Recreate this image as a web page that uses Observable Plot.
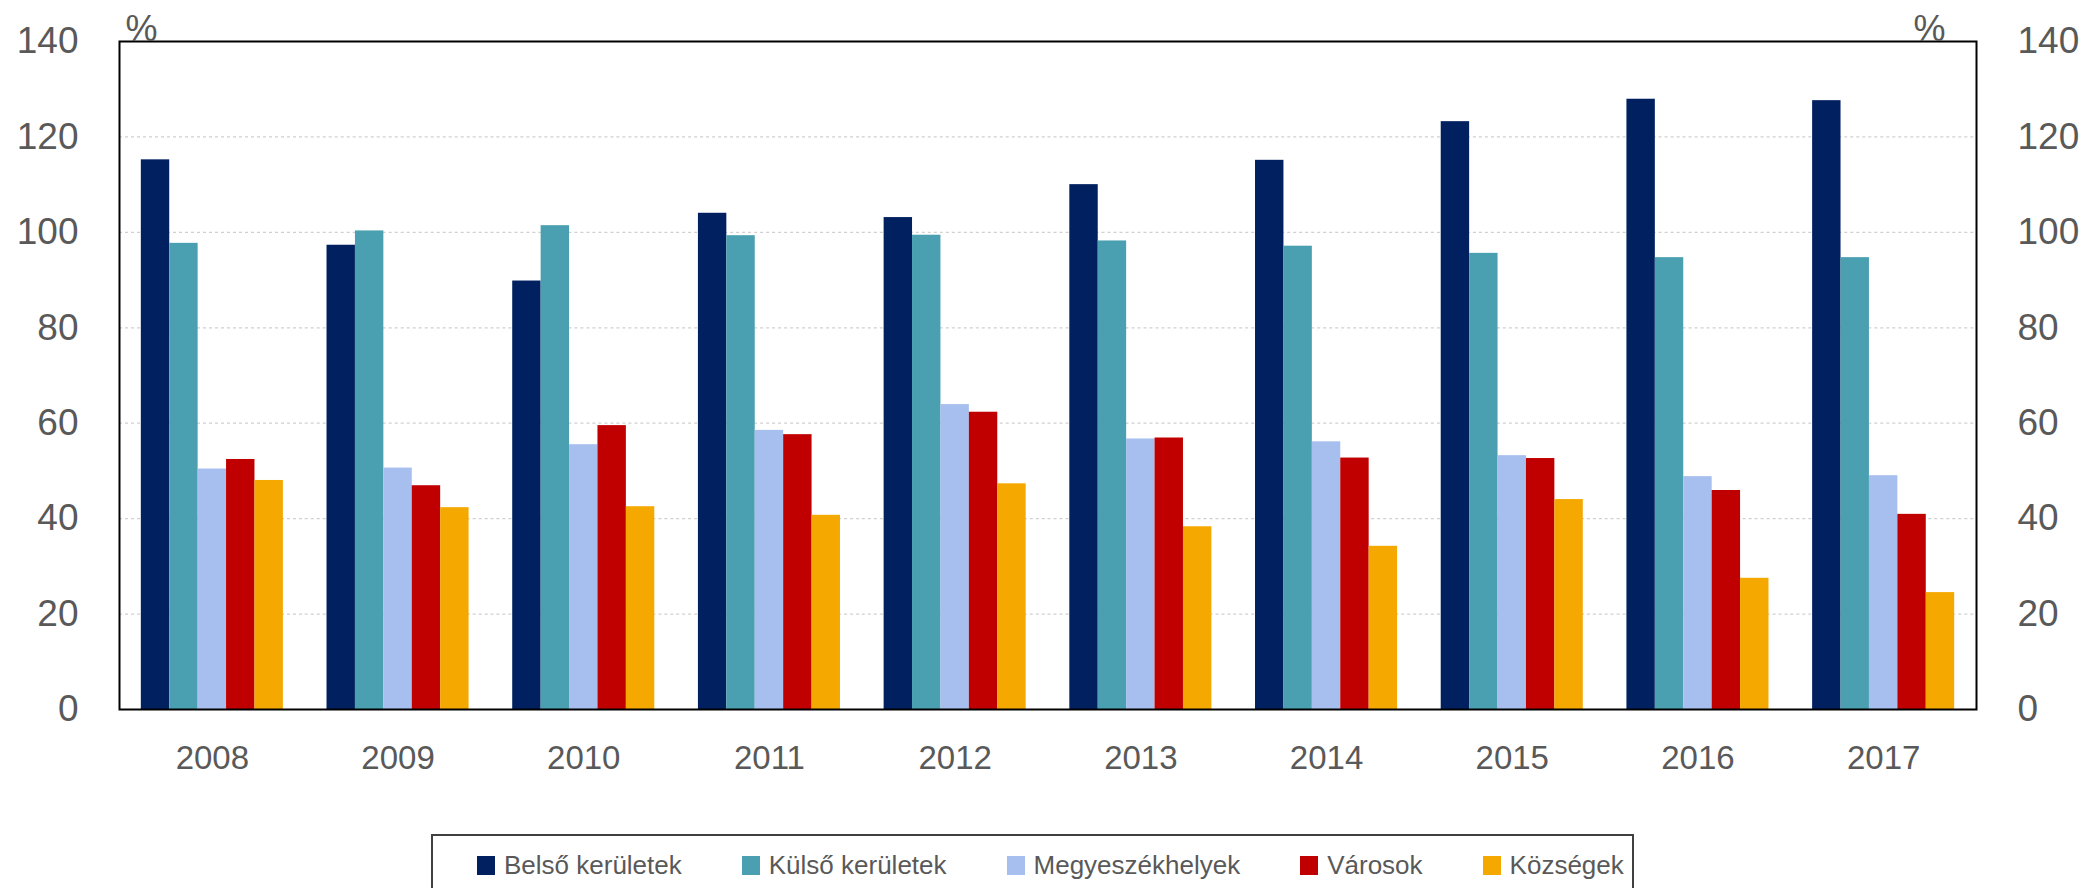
<!DOCTYPE html>
<html>
<head>
<meta charset="utf-8">
<script src="https://cdn.jsdelivr.net/npm/d3@7"></script>
<script src="https://cdn.jsdelivr.net/npm/@observablehq/plot@0.6"></script>
<style>
  html, body { margin: 0; padding: 0; background: #fff; }
  #wrap { position: relative; width: 2094px; height: 888px; overflow: hidden; font-family: "Liberation Sans", Arial, sans-serif; }
  #legend { position: absolute; left: 431px; top: 834px; width: 1203px; height: 90px; border: 2px solid #404040; box-sizing: border-box; display: flex; align-items: flex-start; padding-left: 44px; padding-top: 14px; }
  .item { display: flex; align-items: center; margin-right: 60px; font-size: 26px; color: #595959; white-space: nowrap; }
  .sw { width: 18px; height: 19px; margin-right: 9px; display: inline-block; }
</style>
</head>
<body>
<div id="wrap"><div id="chart"></div><div id="legend"></div></div>
<script>
const years = ["2008","2009","2010","2011","2012","2013","2014","2015","2016","2017"];
const seriesNames = ["Belső kerületek","Külső kerületek","Megyeszékhelyek","Városok","Községek"];
const belso    = [115.2, 97.3, 89.8, 104.0, 103.1, 110.0, 115.1, 123.2, 127.9, 127.6];
const kulso    = [97.7, 100.3, 101.4, 99.3, 99.4, 98.2, 97.1, 95.6, 94.7, 94.7];
const megy     = [50.4, 50.6, 55.5, 58.5, 63.9, 56.7, 56.1, 53.2, 48.8, 49.0];
const varosok  = [52.4, 46.9, 59.5, 57.6, 62.3, 56.9, 52.7, 52.6, 45.9, 40.9];
const kozsegek = [48.0, 42.3, 42.5, 40.7, 47.3, 38.3, 34.2, 44.0, 27.5, 24.5];
const colors = ["#002060", "#4AA0B0", "#A6BFEE", "#C00000", "#F5A800"];
const yTicks = [0, 20, 40, 60, 80, 100, 120, 140];
const unitLabel = "%";

const seriesValues = [belso, kulso, megy, varosok, kozsegek];
const data = [];
years.forEach((yr, i) => {
  seriesNames.forEach((s, j) => data.push({year: yr, series: s, value: seriesValues[j][i]}));
});

const tickColor = "#595959";
const chart = Plot.plot({
  width: 2094,
  height: 800,
  marginLeft: 119,
  marginRight: 118,
  marginTop: 41,
  marginBottom: 91,
  style: {fontFamily: "Liberation Sans, Arial, sans-serif", background: "white"},
  fx: {domain: years, padding: 0, round: false, label: null, axis: null},
  x: {domain: seriesNames, paddingInner: 0, paddingOuter: 0.768, round: false, axis: null},
  y: {domain: [0, 140], axis: null},
  color: {domain: seriesNames, range: colors},
  marks: [
    Plot.gridY(yTicks.filter(d => d > 0 && d < 140), {stroke: "#d0d0d0", strokeOpacity: 1, strokeWidth: 1.2, strokeDasharray: "3,3"}),
    Plot.barY(data, {fx: "year", x: "series", y: "value", fill: "series", inset: 0}),
    Plot.axisY({anchor: "left", ticks: yTicks, tickSize: 0, tickPadding: 41, fontSize: 37, color: tickColor, label: null}),
    Plot.axisY({anchor: "right", ticks: yTicks, tickSize: 0, tickPadding: 41, fontSize: 37, color: tickColor, label: null}),
    Plot.axisFx({anchor: "bottom", tickSize: 0, tickPadding: 36, fontSize: 33, color: tickColor, label: null}),
    Plot.frame({stroke: "black", strokeWidth: 2, facet: "super"}),
    Plot.text([unitLabel], {frameAnchor: "top-left", textAnchor: "start", lineAnchor: "bottom", dx: 6, dy: -1, fontSize: 36, fill: tickColor, facet: "super"}),
    Plot.text([unitLabel], {frameAnchor: "top-right", textAnchor: "end", lineAnchor: "bottom", dx: -31, dy: -1, fontSize: 36, fill: tickColor, facet: "super"})
  ]
});
document.getElementById("chart").appendChild(chart);

const legend = document.getElementById("legend");
seriesNames.forEach((s, i) => {
  const it = document.createElement("div");
  it.className = "item";
  const sw = document.createElement("span");
  sw.className = "sw";
  sw.style.background = colors[i];
  it.appendChild(sw);
  it.appendChild(document.createTextNode(s));
  legend.appendChild(it);
});
</script>
</body>
</html>
